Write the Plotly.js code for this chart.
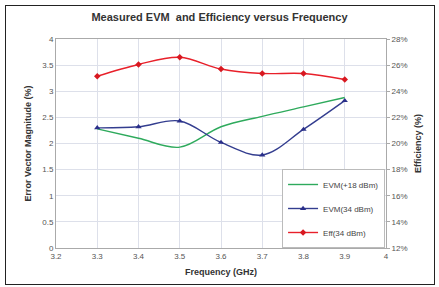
<!DOCTYPE html>
<html><head><meta charset="utf-8">
<script src="https://cdn.plot.ly/plotly-3.0.1.min.js"></script>
<style>body{margin:0;background:#fff}#c{width:439px;height:287px;position:relative}
#f{position:absolute;left:5px;top:5px;width:430px;height:280px;border:1px solid #222;pointer-events:none;box-sizing:border-box}</style>
</head><body><div id="c"></div><div id="f"></div>
<script>
const freq = [3.3, 3.4, 3.5, 3.6, 3.7, 3.8, 3.9];
const evm18 = [2.28, 2.1, 1.93, 2.32, 2.52, 2.7, 2.88];
const evm34 = [2.3, 2.32, 2.43, 2.02, 1.78, 2.27, 2.82];
const eff34 = [25.15, 26.05, 26.6, 25.7, 25.36, 25.36, 24.9];
const xTicks = [3.2, 3.3, 3.4, 3.5, 3.6, 3.7, 3.8, 3.9, 4];
const yTicks = [0, 0.5, 1, 1.5, 2, 2.5, 3, 3.5, 4];
const y2Ticks = [12, 14, 16, 18, 20, 22, 24, 26, 28];
const tf = {family: 'Liberation Sans, Arial, sans-serif', size: 8, color: '#555'};
const traces = [
 {x: freq, y: evm18, name: 'EVM(+18 dBm)', legendgroup: 'a', mode: 'lines', line: {color: '#2eaa5c', width: 1.4, shape: 'spline'}},
 {x: freq, y: evm34, name: 'EVM(34 dBm)', legendgroup: 'b', mode: 'lines+markers', line: {color: '#333d8f', width: 1.4, shape: 'spline'}, marker: {symbol: 'triangle-up', size: 5.5, color: '#2a2f8a'}},
 {x: freq, y: eff34, name: 'Eff(34 dBm)', legendgroup: 'c', yaxis: 'y2', mode: 'lines+markers', line: {color: '#e8202a', width: 1.4, shape: 'spline'}, marker: {symbol: 'diamond', size: 5, color: '#d81820'}}
];
const layout = {
 width: 439, height: 287,
 margin: {l: 56, r: 53, t: 39, b: 39},
 paper_bgcolor: '#fff', plot_bgcolor: '#fff',
 showlegend: true,
 title: {text: '<b>Measured EVM  and Efficiency versus Frequency</b>', font: {family: 'Liberation Sans, Arial, sans-serif', size: 11, color: '#333'}, x: 0.5, xanchor: 'center', y: 0.94, yanchor: 'middle'},
 xaxis: {range: [3.2, 4], tickvals: xTicks, ticktext: xTicks.map(String), tickfont: tf, showgrid: true, gridcolor: '#dde0ea', zeroline: false, showline: true, linecolor: '#aaa', mirror: true, ticks: '', title: {text: '<b>Frequency (GHz)</b>', font: {family: 'Liberation Sans, Arial, sans-serif', size: 9, color: '#333'}, standoff: 9}},
 yaxis: {range: [0, 4], tickvals: yTicks, ticktext: yTicks.map(String), tickfont: tf, showgrid: true, gridcolor: '#dde0ea', zeroline: false, showline: true, linecolor: '#aaa', ticks: '', title: {text: '<b>Error Vector Magnitude (%)</b>', font: {family: 'Liberation Sans, Arial, sans-serif', size: 9, color: '#333'}, standoff: 9}},
 yaxis2: {range: [12, 28], overlaying: 'y', side: 'right', tickvals: y2Ticks, ticktext: y2Ticks.map(v => v + '%'), tickfont: tf, showgrid: false, zeroline: false, showline: true, linecolor: '#aaa', ticks: 'outside', ticklen: 3, tickcolor: '#aaa', title: {text: '<b>Efficiency (%)</b>', font: {family: 'Liberation Sans, Arial, sans-serif', size: 9, color: '#333'}, standoff: 8}},
 legend: {x: 0.685, y: 0.0, xanchor: 'left', yanchor: 'bottom', traceorder: 'grouped', bgcolor: '#fff', bordercolor: '#bbb', borderwidth: 1, font: {family: 'Liberation Sans, Arial, sans-serif', size: 8, color: '#444'}, tracegroupgap: 5, itemwidth: 30}
};
Plotly.newPlot('c', traces, layout, {staticPlot: true, displayModeBar: false});
</script></body></html>
